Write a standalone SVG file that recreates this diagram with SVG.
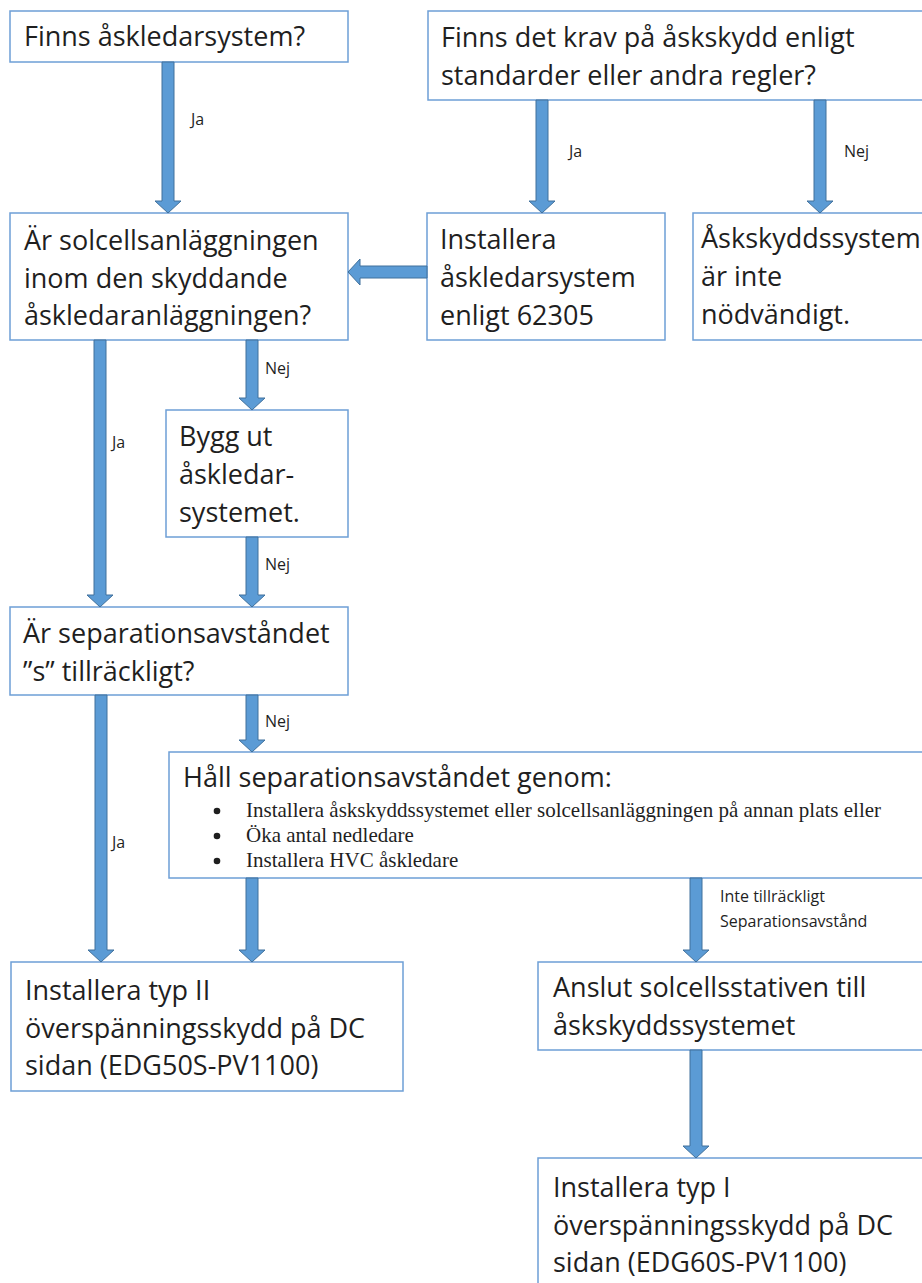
<svg xmlns="http://www.w3.org/2000/svg" width="922" height="1283" viewBox="0 0 922 1283">
<style>
.box{fill:#ffffff;stroke:#6d9fd6;stroke-width:1.5}
.t{font-family:"Open Sans","Noto Sans",sans-serif;font-size:27px;fill:#1f1f1f}
.lb{font-family:"Open Sans","Noto Sans",sans-serif;font-size:16px;fill:#1f1f1f}
.b{font-family:"Liberation Serif","Times New Roman",serif;font-size:21px;fill:#1f1f1f}
.dot{fill:#1f1f1f}
.ar{fill:#5b9bd5;stroke:#41719c;stroke-width:1}
</style>
<rect width="922" height="1283" fill="#ffffff"/>
<g id="n1"><rect class="box" x="10" y="11" width="338" height="51"/><text class="t" x="24" y="46">Finns åskledarsystem?</text></g>
<g id="n2"><rect class="box" x="428" y="11" width="504" height="89"/><text class="t" x="441" y="47">Finns det krav på åskskydd enligt</text><text class="t" x="441" y="85">standarder eller andra regler?</text></g>
<g id="n3"><rect class="box" x="10" y="213" width="338" height="127"/><text class="t" x="24" y="250">Är solcellsanläggningen</text><text class="t" x="24" y="287.5">inom den skyddande</text><text class="t" x="24" y="325">åskledaranläggningen?</text></g>
<g id="n4"><rect class="box" x="427" y="213" width="238" height="127"/><text class="t" x="440" y="249">Installera</text><text class="t" x="440" y="287">åskledarsystem</text><text class="t" x="440" y="325">enligt 62305</text></g>
<g id="n5"><rect class="box" x="693" y="213" width="240" height="127"/><text class="t" x="701" y="248">Åskskyddssystem</text><text class="t" x="701" y="286">är inte</text><text class="t" x="701" y="324">nödvändigt.</text></g>
<g id="n6"><rect class="box" x="166" y="410" width="182" height="127"/><text class="t" x="179" y="446">Bygg ut</text><text class="t" x="179" y="484">åskledar-</text><text class="t" x="179" y="522">systemet.</text></g>
<g id="n7"><rect class="box" x="10" y="607" width="338" height="88"/><text class="t" x="23" y="643">Är separationsavståndet</text><text class="t" x="23" y="681">”s” tillräckligt?</text></g>
<g id="n8"><rect class="box" x="169" y="752" width="763" height="126"/><text class="t" x="183" y="787">Håll separationsavståndet genom:</text>
<circle class="dot" cx="217" cy="811" r="3.3"/><text class="b" x="246" y="817">Installera åskskyddssystemet eller solcellsanläggningen på annan plats eller</text>
<circle class="dot" cx="217" cy="836" r="3.3"/><text class="b" x="246" y="842">Öka antal nedledare</text>
<circle class="dot" cx="217" cy="861" r="3.3"/><text class="b" x="246" y="867">Installera HVC åskledare</text></g>
<g id="n9"><rect class="box" x="11" y="962" width="392" height="129"/><text class="t" x="25" y="1000">Installera typ II</text><text class="t" x="25" y="1037.5">överspänningsskydd på DC</text><text class="t" x="25" y="1075">sidan (EDG50S-PV1100)</text></g>
<g id="n10"><rect class="box" x="538" y="962" width="394" height="88"/><text class="t" x="553" y="997">Anslut solcellsstativen till</text><text class="t" x="553" y="1035">åskskyddssystemet</text></g>
<g id="n11"><rect class="box" x="538" y="1158" width="394" height="140"/><text class="t" x="553" y="1197">Installera typ I</text><text class="t" x="553" y="1235">överspänningsskydd på DC</text><text class="t" x="553" y="1272">sidan (EDG60S-PV1100)</text></g>
<g id="connectors">
<polygon class="ar" points="162,62 174,62 174,201 181,201 168,213 155,201 162,201"/>
<polygon class="ar" points="536,100 548,100 548,201 555,201 542,213 529,201 536,201"/>
<polygon class="ar" points="814,100 826,100 826,201 833,201 820,213 807,201 814,201"/>
<polygon class="ar" points="427,266 427,278 360,278 360,285 348,272 360,259 360,266"/>
<polygon class="ar" points="94,340 106,340 106,595 113,595 100,607 87,595 94,595"/>
<polygon class="ar" points="246,340 258,340 258,398 265,398 252,410 239,398 246,398"/>
<polygon class="ar" points="246,537 258,537 258,595 265,595 252,607 239,595 246,595"/>
<polygon class="ar" points="95,695 107,695 107,950 114,950 101,962 88,950 95,950"/>
<polygon class="ar" points="246,695 258,695 258,740 265,740 252,752 239,740 246,740"/>
<polygon class="ar" points="246,878 258,878 258,950 265,950 252,962 239,950 246,950"/>
<polygon class="ar" points="690,878 702,878 702,950 709,950 696,962 683,950 690,950"/>
<polygon class="ar" points="690,1050 702,1050 702,1146 709,1146 696,1158 683,1146 690,1146"/>
<text class="lb" x="191" y="125">Ja</text>
<text class="lb" x="569" y="157">Ja</text>
<text class="lb" x="844" y="157">Nej</text>
<text class="lb" x="112" y="448">Ja</text>
<text class="lb" x="265" y="374">Nej</text>
<text class="lb" x="265" y="570">Nej</text>
<text class="lb" x="265" y="727">Nej</text>
<text class="lb" x="112" y="848">Ja</text>
<text class="lb" x="720" y="902">Inte tillräckligt</text>
<text class="lb" x="720" y="927">Separationsavstånd</text>
</g>
</svg>
